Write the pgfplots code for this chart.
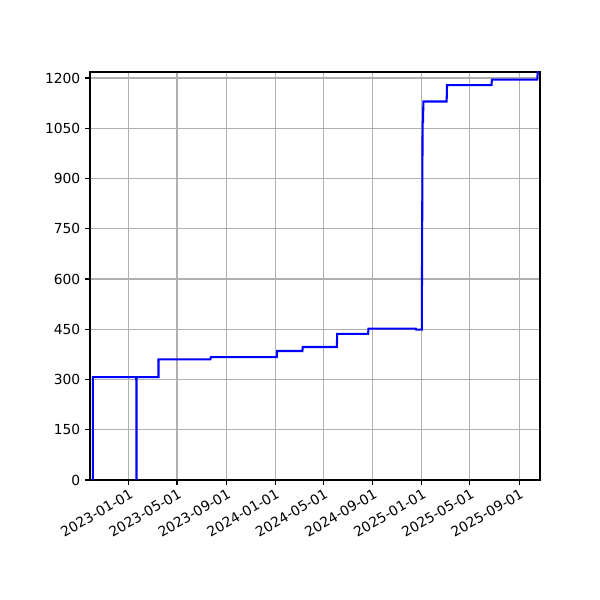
\documentclass[border=0pt]{standalone}
\usepackage{fontspec}
\setmainfont{DejaVu Sans}
\usepackage{pgfplots}
\pgfplotsset{compat=1.18}
\begin{document}
\begin{tikzpicture}
\path[use as bounding box] (-0.9in,-1.2in) rectangle (5.1in,4.8in);
\begin{axis}[
  at={(0,0)}, anchor=south west,
  scale only axis, width=4.5in, height=4.08in,
  xmin=-97, xmax=1026, ymin=0, ymax=1218,
  xtick={0,120,243,365,486,609,731,851,974},
  xticklabels={2023-01-01,2023-05-01,2023-09-01,2024-01-01,2024-05-01,2024-09-01,2025-01-01,2025-05-01,2025-09-01},
  x tick label style={rotate=30, anchor=north east, inner sep=1pt, yshift=-1pt},
  ytick={0,150,300,450,600,750,900,1050,1200},
  tick label style={font=\fontsize{10}{12}\selectfont},
  /pgf/number format/assume math mode=true,
  /pgf/number format/1000 sep={},
  scaled y ticks=false,
  grid=major,
  major grid style={color=black!31, line width=0.8pt},
  tick align=outside, tick pos=left,
  major tick length=3.5pt,
  every tick/.style={black, line width=0.8pt},
  axis line style={line width=0.8pt},
  clip=true,
]
\addplot[blue, line width=1.5pt] coordinates {
(-90,0) (-90,307) (18.5,307) (19,0) (19.5,307)
(74,307) (74,360) (203,360) (205,367) (369,367) (370,385)
(433,385) (434,397) (519,397) (520,436) (597,436) (598,452)
(716,452) (717,449) (731,449) (733,1069) (734,1069) (735,1130)
(793,1130) (794,1179) (905,1179) (906,1195) (1019,1195) (1022,1240)
};
\end{axis}
\end{tikzpicture}
\end{document}
